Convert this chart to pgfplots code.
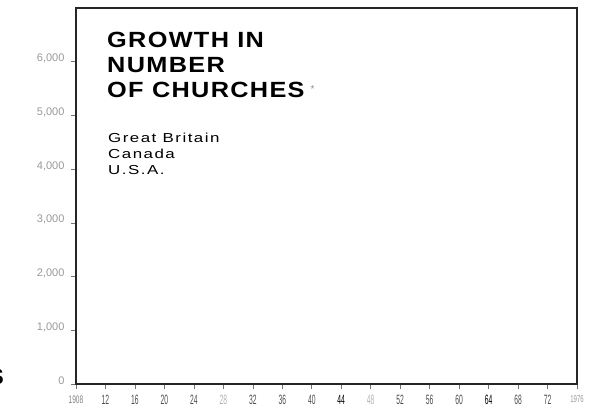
\documentclass[border=0pt]{standalone}
\usepackage{pgfplots}
\pgfplotsset{compat=1.18}
\usepackage{fontspec}
\setmainfont{Liberation Sans}
\newfontfamily\titlefont[FakeStretch=1.15, LetterSpace=6]{Liberation Sans}
\newfontfamily\keyfont[FakeStretch=1.3, LetterSpace=11.5]{Liberation Sans}
\newfontfamily\narrowfont[FakeStretch=0.5]{Liberation Sans}
\newfontfamily\yearfont[FakeStretch=0.6]{Liberation Sans}

\begin{document}
\begin{tikzpicture}
\useasboundingbox (-76pt,-30pt) rectangle (523pt,384pt);
\begin{axis}[
    at={(0,0)}, anchor=south west,
    scale only axis,
    width=501pt, height=376pt,
    xmin=1908, xmax=1976,
    ymin=0, ymax=7000,
    axis line style={line width=1.8pt, black!85},
    tick align=outside,
    xtick pos=bottom, ytick pos=left,
    major tick length=5pt,
    tick style={black!55, line width=0.6pt},
    xtick={1908,1912,...,1976},
    xticklabels={
      {\yearfont\fontsize{11}{11}\selectfont\color{black!50}\raisebox{-1pt}{1908}},12,16,20,24,
      {\color{black!30}28},32,36,40,{\color{black}44},{\color{black!30}48},
      52,56,60,{\color{black}64},68,72,
      {\yearfont\fontsize{10}{10}\selectfont\color{black!40}\raisebox{-3pt}{1976}}},
    xticklabel style={font=\narrowfont\fontsize{13.5}{13.5}\selectfont, text=black!70, yshift=-3pt},
    ytick={0,1000,...,6000},
    yticklabel style={font=\fontsize{11}{11}\selectfont, text=black!40, xshift=-3pt, yshift=3pt},
    /pgf/number format/assume math mode=true,
    /pgf/number format/1000 sep={,},
]
\end{axis}
% title and key
\node[anchor=base west, inner sep=0, font=\titlefont\bfseries\fontsize{22}{22}\selectfont] at (31pt,336pt) {GROWTH IN};
\node[anchor=base west, inner sep=0, font=\titlefont\bfseries\fontsize{22}{22}\selectfont] at (31pt,311pt) {NUMBER};
\node[anchor=base west, inner sep=0, font=\titlefont\bfseries\fontsize{22}{22}\selectfont] at (31pt,286pt) {OF CHURCHES\hspace{6pt}\raisebox{5pt}{\color{black!45}\normalfont\fontsize{10}{10}\selectfont*}};
\node[anchor=base west, inner sep=0, font=\keyfont\fontsize{13}{13}\selectfont] at (32pt,241pt) {Great Britain};
\node[anchor=base west, inner sep=0, font=\keyfont\fontsize{13}{13}\selectfont] at (32pt,225pt) {Canada};
\node[anchor=base west, inner sep=0, font=\keyfont\fontsize{13}{13}\selectfont] at (32pt,209pt) {U.S.A.};
\node[anchor=base east, inner sep=0, font=\bfseries\fontsize{22}{22}\selectfont] at (-72pt,-1pt) {S};
\end{tikzpicture}
\end{document}
